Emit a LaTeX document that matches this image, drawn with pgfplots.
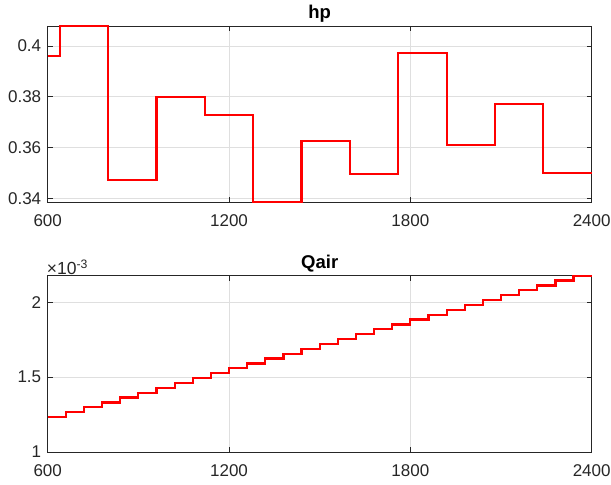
\documentclass[border=0pt]{standalone}
\usepackage{pgfplots}
\pgfplotsset{compat=1.18}
\usepackage{fontspec}
\setmainfont{Liberation Sans}

\definecolor{axgray}{RGB}{38,38,38}
\definecolor{gridgray}{RGB}{223,223,223}

\pgfplotsset{
  mstyle/.style={
    scale only axis, width=544pt, height=176.3pt,
    anchor=south west,
    xmin=600, xmax=2400, xtick={600,1200,1800,2400},
    grid=major, major grid style={gridgray, line width=0.6pt},
    axis line style={axgray, line width=0.8pt},
    tick style={axgray, line width=0.8pt},
    tick align=inside, major tick length=5pt,
    ticklabel style={font=\fontsize{17}{20}\selectfont, text=axgray},
    xticklabel style={yshift=-9pt, /pgf/number format/1000 sep={}},
    yticklabel style={xshift=-3pt},
    /pgf/number format/assume math mode=true,
    title style={font=\bfseries\fontsize{18.5}{21}\selectfont, text=black, yshift=-6pt},
    clip=false,
  },
}

\begin{document}
\begin{tikzpicture}[x=1pt,y=1pt]
\useasboundingbox (0,0) rectangle (611,485);

% top panel
\begin{axis}[mstyle, at={(47.7pt,282.7pt)}, title={hp},
  ymin=0.3384, ymax=0.4079, ytick={0.34,0.36,0.38,0.4},
  yticklabel style={/pgf/number format/.cd, fixed, precision=2}]
\addplot[const plot, red, line width=2.2pt] coordinates {
 (600,0.3961) (640,0.4079) (800,0.3472) (960,0.3800) (1120,0.3727)
 (1280,0.3384) (1440,0.3627) (1600,0.3497) (1760,0.3972) (1920,0.3609)
 (2080,0.3772) (2240,0.3500) (2400,0.3500)};
\end{axis}

% bottom panel
\begin{axis}[mstyle, at={(47.7pt,33pt)}, title={Qair},
  ymin=0.001, ymax=0.002177, ytick={0.001,0.0015,0.002},
  scaled y ticks=base 10:3,
  ytick scale label code/.code={×10\textsuperscript{-3}},
  every y tick scale label/.style={at={(rel axis cs:0,1)}, anchor=south west,
    inner sep=0pt, xshift=2pt, yshift=1pt, font=\fontsize{17.5}{20}\selectfont, text=axgray}]
\addplot[const plot, red, line width=2.2pt] coordinates {
 (600,0.0012330) (660,0.0012656) (720,0.0012981) (780,0.0013307)
 (840,0.0013632) (900,0.0013958) (960,0.0014283) (1020,0.0014609)
 (1080,0.0014934) (1140,0.0015260) (1200,0.0015585) (1260,0.0015911)
 (1320,0.0016236) (1380,0.0016562) (1440,0.0016887) (1500,0.0017213)
 (1560,0.0017538) (1620,0.0017864) (1680,0.0018189) (1740,0.0018515)
 (1800,0.0018840) (1860,0.0019166) (1920,0.0019491) (1980,0.0019817)
 (2040,0.0020142) (2100,0.0020468) (2160,0.0020793) (2220,0.0021119)
 (2280,0.0021444) (2340,0.0021770) (2400,0.0021770)};
\end{axis}
\end{tikzpicture}
\end{document}
